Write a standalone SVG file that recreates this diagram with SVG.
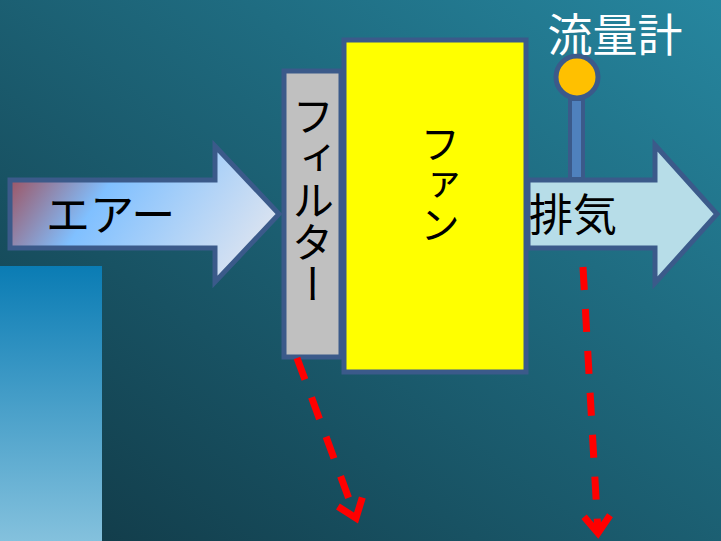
<svg xmlns="http://www.w3.org/2000/svg" width="721" height="541" viewBox="0 0 721 541">
<defs>
<linearGradient id="bg" x1="1" y1="0" x2="0" y2="1">
<stop offset="0" stop-color="#26869f"/>
<stop offset="1" stop-color="#113845"/>
</linearGradient>
<linearGradient id="blue" x1="0" y1="0" x2="0" y2="1">
<stop offset="0" stop-color="#0a7cb4"/>
<stop offset="1" stop-color="#84c1dd"/>
</linearGradient>
<linearGradient id="air" gradientUnits="userSpaceOnUse" x1="20" y1="150" x2="240" y2="300">
<stop offset="0" stop-color="#a04a55"/>
<stop offset="0.35" stop-color="#80c0ff"/>
<stop offset="1" stop-color="#e2e6ef"/>
</linearGradient>
<marker id="vhead" markerUnits="userSpaceOnUse" markerWidth="44" markerHeight="44" refX="22" refY="22" orient="auto" viewBox="0 0 44 44">
<polyline points="5,9 22,22 5,35" fill="none" stroke="#ff0000" stroke-width="7" stroke-linecap="butt" stroke-linejoin="miter"/>
</marker>
<style>
.ol{stroke:#3b5a8a;stroke-width:5;stroke-linejoin:miter}
.jp{font-family:"Noto Sans CJK JP","Noto Sans",sans-serif;fill:#000}
.vt{writing-mode:vertical-rl}
.dash{fill:none;stroke:#ff0000;stroke-width:7;stroke-dasharray:23 19}
</style>
</defs>
<rect width="721" height="541" fill="url(#bg)"/>
<rect x="0" y="266" width="102" height="275" fill="url(#blue)"/>

<g id="air-arrow">
<polygon class="ol" fill="url(#air)" points="10,180 215,180 215,146 279,214 215,282 215,248 10,248"/>
<text class="jp" x="46" y="231" font-size="44">エアー</text>
</g>

<g id="filter">
<rect class="ol" x="284" y="71" width="57" height="286" fill="#c0c0c0"/>
<text class="jp vt" x="313" y="95" font-size="42">フィルター</text>
</g>

<g id="fan">
<rect class="ol" x="344" y="40" width="182" height="332" fill="#ffff00"/>
<text class="jp vt" x="440" y="124" font-size="40">ファン</text>
</g>

<g id="exhaust">
<polygon class="ol" fill="#b7dde8" points="528,180 655,180 655,145 717,214 655,283 655,248 528,248"/>
<text class="jp" x="529" y="231" font-size="44">排気</text>
</g>

<g id="flowmeter">
<rect x="570" y="99" width="13" height="80" fill="#4f81bd" stroke="#3b5a8a" stroke-width="4"/>
<circle cx="577" cy="77" r="21" fill="#ffc000" stroke="#3b5a8a" stroke-width="5"/>
<text x="615" y="52" font-size="45" text-anchor="middle" font-family="'Noto Sans CJK JP','Noto Sans',sans-serif" fill="#ffffff">流量計</text>
</g>

<g id="connectors">
<line class="dash" x1="297" y1="358" x2="356" y2="518" marker-end="url(#vhead)"/>
<line class="dash" x1="583" y1="267" x2="598" y2="533" marker-end="url(#vhead)"/>
</g>
</svg>
